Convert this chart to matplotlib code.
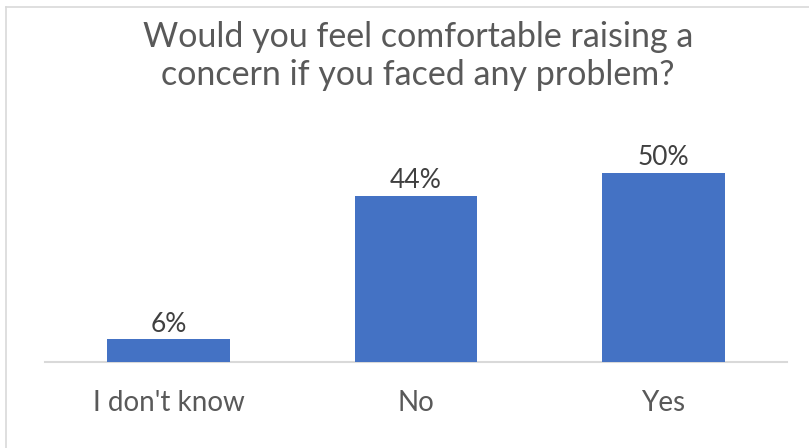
import matplotlib
matplotlib.use("Agg")
import matplotlib.pyplot as plt
from matplotlib.lines import Line2D

categories = ["I don't know", "No", "Yes"]
values = [6, 44, 50]
labels = ["6%", "44%", "50%"]

plt.rcParams['font.family'] = ['Lato', 'DejaVu Sans']
W, H = 809, 448
fig = plt.figure(figsize=(W/100, H/100), dpi=100)
fig.patch.set_facecolor('white')

ax = fig.add_axes([45/W, 86/H, 742/W, 208/H])
x = list(range(len(categories)))
bars = ax.bar(x, values, width=0.497, color='#4472C4', zorder=2)
ax.set_xlim(-0.5, 2.5)
ax.set_ylim(0, 55)
for xi, v, lab in zip(x, values, labels):
    ax.annotate(lab, (xi, v), xytext=(0, 2), textcoords='offset points',
                ha='center', va='bottom', fontsize=19, color='#404040')
ax.set_xticks(x)
ax.set_xticklabels(categories, fontsize=20, color='#595959')
ax.tick_params(axis='x', length=0, pad=20)
ax.set_yticks([])
for s in ['top', 'right', 'left']:
    ax.spines[s].set_visible(False)
ax.spines['bottom'].set_color('#d9d9d9')
ax.spines['bottom'].set_linewidth(1.5)
ax.spines['bottom'].set_zorder(1)

fig.text(418/W, 1 - 56/H, "Would you feel comfortable raising a\nconcern if you faced any problem?",
         ha='center', va='center', fontsize=24.5, color='#595959', linespacing=1.25)

# border (top and left edges visible)
fig.add_artist(Line2D([6/W, 1], [1 - 7/H, 1 - 7/H], color='#d9d9d9', lw=1.2, transform=fig.transFigure))
fig.add_artist(Line2D([6/W, 6/W], [0, 1 - 7/H], color='#d9d9d9', lw=1.2, transform=fig.transFigure))

fig.savefig("out.png", dpi=100)
